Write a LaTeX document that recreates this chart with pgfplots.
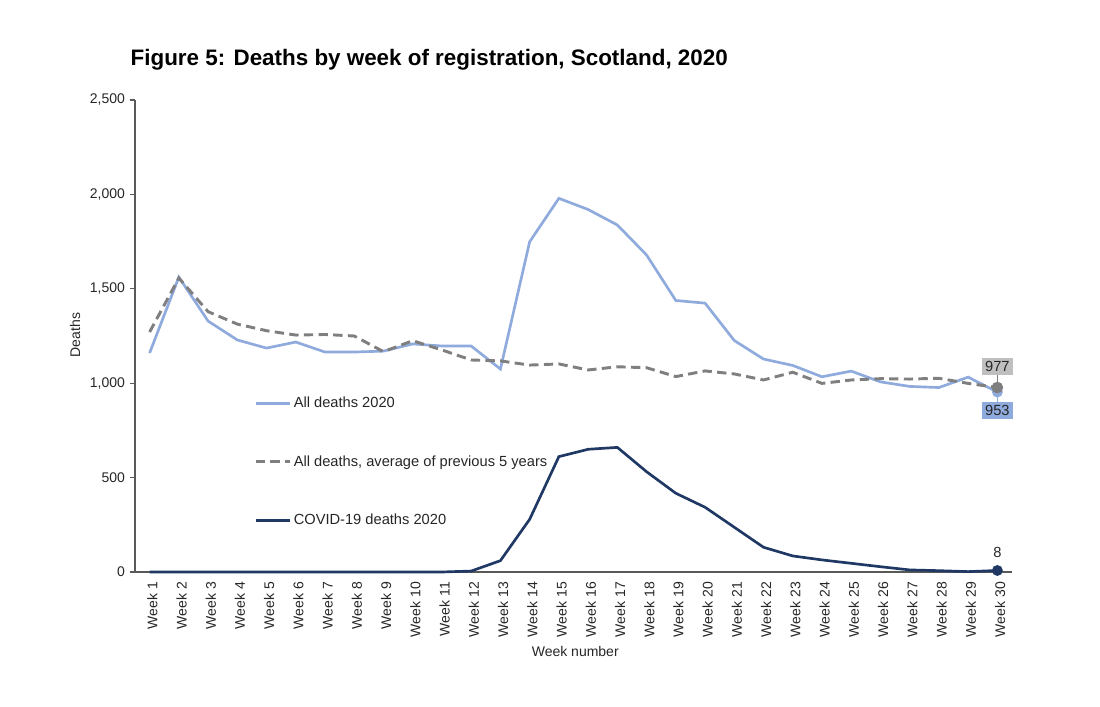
\documentclass[border=0pt]{standalone}
\usepackage{pgfplots}
\pgfplotsset{compat=1.18}
\usepackage{fontspec}
\setmainfont{Liberation Sans}
\definecolor{allblue}{HTML}{8FAADC}
\definecolor{avggray}{HTML}{7F7F7F}
\definecolor{covnavy}{HTML}{203864}
\definecolor{axgray}{HTML}{595959}
\definecolor{lblgray}{HTML}{BFBFBF}
\begin{document}
\begin{tikzpicture}
\path[use as bounding box] (0,0) rectangle (825pt,530.25pt);
\node[anchor=base west, font=\bfseries\fontsize{16.8}{20}\selectfont] at (94.5pt,480.75pt) {Figure 5: Deaths by week of registration, Scotland, 2020};
\begin{axis}[
  at={(101.25pt,101.25pt)}, anchor=south west,
  scale only axis, width=657.75pt, height=354pt,
  xmin=0.5, xmax=30.5, ymin=0, ymax=2500,
  axis x line*=bottom, axis y line*=left,
  axis line style={color=axgray, line width=0.9pt},
  every tick/.style={color=axgray, line width=0.9pt},
  tick align=outside, major tick length=4pt, minor tick length=4pt,
  xtick={1,...,30},
  xticklabels={Week 1,Week 2,Week 3,Week 4,Week 5,Week 6,Week 7,Week 8,Week 9,Week 10,Week 11,Week 12,Week 13,Week 14,Week 15,Week 16,Week 17,Week 18,Week 19,Week 20,Week 21,Week 22,Week 23,Week 24,Week 25,Week 26,Week 27,Week 28,Week 29,Week 30},
  xtick style={draw=none},
  minor xtick={0.5,1.5,...,30.5},
  minor x tick style={color=axgray, line width=0.9pt},
  xticklabel style={rotate=90, anchor=east, font=\fontsize{10.5}{12}\selectfont, text=black!85, yshift=-2pt},
  ytick={0,500,1000,1500,2000,2500},
  yticklabel style={font=\fontsize{10.5}{12}\selectfont, text=black!85},
  /pgf/number format/.cd, 1000 sep={,}, assume math mode=true, /pgfplots/.cd,
  xlabel={Week number},
  xlabel style={at={(axis description cs:0.502,-0.169)}, anchor=center, font=\fontsize{10.5}{12}\selectfont, text=black!85},
  ylabel={Deaths},
  ylabel style={at={(axis description cs:-0.0684,0.502)}, anchor=center, rotate=0, font=\fontsize{10.5}{12}\selectfont, text=black!85},
  legend style={at={(axis description cs:0.131,0.381)}, anchor=north west, draw=none, fill=none, font=\fontsize{11}{13}\selectfont, row sep=31.4pt, text=black!85, nodes={inner sep=1.5pt}},
  legend cell align=left,
  legend image code/.code={\draw[#1] (0pt,0pt) -- (26pt,0pt);},
  clip=false,
]
\addplot[color=allblue, line width=2pt, mark=*, mark indices={30}, mark size=3pt, mark options={solid, fill=allblue}] coordinates {
(1,1160) (2,1562) (3,1329) (4,1229) (5,1186) (6,1218) (7,1165) (8,1165) (9,1170) (10,1208)
(11,1197) (12,1197) (13,1075) (14,1749) (15,1979) (16,1920) (17,1838) (18,1679) (19,1438) (20,1424)
(21,1226) (22,1128) (23,1094) (24,1034) (25,1064) (26,1007) (27,983) (28,977) (29,1032) (30,953)};
\addlegendentry{All deaths 2020}
\addplot[color=avggray, line width=2.2pt, dash pattern=on 7pt off 4pt, mark=*, mark indices={30}, mark size=3.2pt, mark options={solid, fill=avggray}] coordinates {
(1,1271) (2,1557) (3,1379) (4,1313) (5,1278) (6,1255) (7,1258) (8,1250) (9,1167) (10,1225)
(11,1176) (12,1123) (13,1118) (14,1096) (15,1102) (16,1070) (17,1087) (18,1082) (19,1035) (20,1065)
(21,1049) (22,1017) (23,1058) (24,999) (25,1017) (26,1024) (27,1022) (28,1026) (29,999) (30,977)};
\addlegendentry{All deaths, average of previous 5 years}
\addplot[color=covnavy, line width=2pt, mark=*, mark indices={30}, mark size=3pt, mark options={solid, fill=covnavy}] coordinates {
(1,0) (2,0) (3,0) (4,0) (5,0) (6,0) (7,0) (8,0) (9,0) (10,0)
(11,0) (12,5) (13,60) (14,279) (15,611) (16,650) (17,660) (18,531) (19,417) (20,343)
(21,237) (22,131) (23,85) (24,64) (25,46) (26,28) (27,11) (28,7) (29,2) (30,8)};
\addlegendentry{COVID-19 deaths 2020}
% data labels
\addplot[forget plot, draw=none, nodes near coords,
  every node near coord/.append style={anchor=south, yshift=9.5pt, fill=lblgray, inner sep=2.5pt, font=\fontsize{11}{13}\selectfont, text=black!85},
  error bars/.cd, y dir=plus, y explicit, error mark=none, error bar style={color=avggray, line width=1pt}]
  coordinates {(30,977) +- (0,67)};
\addplot[forget plot, draw=none, nodes near coords,
  every node near coord/.append style={anchor=north, yshift=-7.5pt, fill=allblue, inner sep=2.5pt, font=\fontsize{11}{13}\selectfont, text=black!85},
  error bars/.cd, y dir=minus, y explicit, error mark=none, error bar style={color=allblue, line width=1pt}]
  coordinates {(30,953) +- (0,53)};
\addplot[forget plot, draw=none, nodes near coords,
  every node near coord/.append style={anchor=south, yshift=7.5pt, inner sep=2pt, font=\fontsize{11}{13}\selectfont, text=black!85}]
  coordinates {(30,8)};
\end{axis}
\end{tikzpicture}
\end{document}
